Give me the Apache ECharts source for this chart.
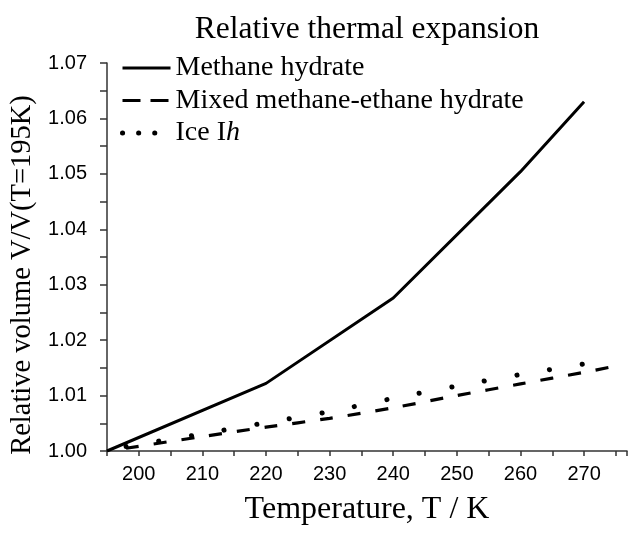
<!DOCTYPE html>
<html>
<head>
<meta charset="utf-8">
<script src="https://cdn.jsdelivr.net/npm/echarts@6/dist/echarts.min.js"></script>
<style>html,body{margin:0;padding:0;background:#fff}#c{width:630px;height:533px}</style>
</head>
<body>
<div id="c"></div>
<script>
const titleText = 'Relative thermal expansion';
const xName = 'Temperature, T / K';
const yName = 'Relative volume V/V(T=195K)';
const seriesNames = ['Methane hydrate', 'Mixed methane-ethane hydrate', 'Ice Ih'];

const methaneT = [195, 220, 240, 260, 270];
const methaneV = [1.0000, 1.0122, 1.0276, 1.0504, 1.0630];

const mixedT = [198, 210, 220, 230, 240, 250, 260, 270, 274];
const mixedV = [1.0005, 1.0026, 1.0043, 1.0059, 1.0078, 1.0100, 1.0121, 1.0142, 1.0151];

const iceT = [198, 210, 220, 230, 240, 250, 260, 270, 274];
const iceV = [1.0008, 1.0031, 1.0051, 1.0071, 1.0095, 1.0117, 1.0138, 1.0157, 1.0166];

const zip = (a, b) => a.map((v, i) => [v, b[i]]);
const serif = '"Liberation Serif", "Times New Roman", serif';
const sans = '"Liberation Sans", Arial, sans-serif';

const chart = echarts.init(document.getElementById('c'), null, {renderer: 'canvas'});
chart.setOption({
  animation: false,
  backgroundColor: '#fff',
  title: {
    text: titleText, left: 362, textAlign: 'center', top: 9,
    textStyle: {fontFamily: serif, fontSize: 31.5, fontWeight: 'normal', color: '#000'}
  },
  grid: {left: 103, right: 0, top: 63, bottom: 82, containLabel: false},
  legend: {
    orient: 'vertical', left: 115, top: 49, itemWidth: 48, itemHeight: 14, itemGap: 4.5,
    itemStyle: {opacity: 0},
    textStyle: {fontFamily: serif, fontSize: 28, color: '#000',
      rich: {i: {fontFamily: serif, fontSize: 28, fontStyle: 'italic', color: '#000'}}},
    formatter: n => n === 'Ice Ih' ? 'Ice I{i|h}' : n,
    data: [
      {name: seriesNames[0], lineStyle: {width: 3}},
      {name: seriesNames[1], lineStyle: {type: [18, 10], width: 3.2}},
      {name: seriesNames[2], lineStyle: {type: [0.1, 16], cap: 'round', width: 5}}
    ]
  },
  xAxis: {
    type: 'value', min: 195, max: 276.75, interval: 5,
    name: xName, nameLocation: 'middle', nameGap: 43,
    nameTextStyle: {fontFamily: serif, fontSize: 32, color: '#000'},
    axisLine: {show: true, onZero: false, lineStyle: {color: '#333', width: 1.5}},
    axisTick: {show: true, length: 5, lineStyle: {color: '#333', width: 1.5}},
    axisLabel: {fontFamily: sans, fontSize: 20, color: '#000', margin: 13,
      formatter: v => (Math.round(v) % 10 === 0 && v < 276) ? String(Math.round(v)) : ''},
    splitLine: {show: false}
  },
  yAxis: {
    type: 'value', min: 1.0, max: 1.07, interval: 0.005,
    name: yName, nameLocation: 'middle', nameGap: 70, nameRotate: 90,
    nameTextStyle: {fontFamily: serif, fontSize: 28.5, color: '#000', padding: [0, 36, 0, 0]},
    axisLine: {show: true, onZero: false, lineStyle: {color: '#333', width: 1.5}},
    axisTick: {show: true, length: 7, lineStyle: {color: '#333', width: 1.5}},
    axisLabel: {fontFamily: sans, fontSize: 20, color: '#000', margin: 20,
      formatter: v => (Math.round(v * 1000) % 10 === 0) ? v.toFixed(2) : ''},
    splitLine: {show: false}
  },
  series: [
    {name: seriesNames[0], type: 'line', data: zip(methaneT, methaneV), symbol: 'none',
     lineStyle: {color: '#000', width: 3, type: 'solid'}, itemStyle: {color: '#000'}},
    {name: seriesNames[1], type: 'line', data: zip(mixedT, mixedV), symbol: 'none', smooth: 0.3,
     lineStyle: {color: '#000', width: 3.2, type: [13, 15]}, itemStyle: {color: '#000'}},
    {name: seriesNames[2], type: 'line', data: zip(iceT, iceV), symbol: 'none', smooth: 0.3,
     lineStyle: {color: '#000', width: 5, type: [0.1, 33], cap: 'round'}, itemStyle: {color: '#000'}}
  ]
});
</script>
</body>
</html>
